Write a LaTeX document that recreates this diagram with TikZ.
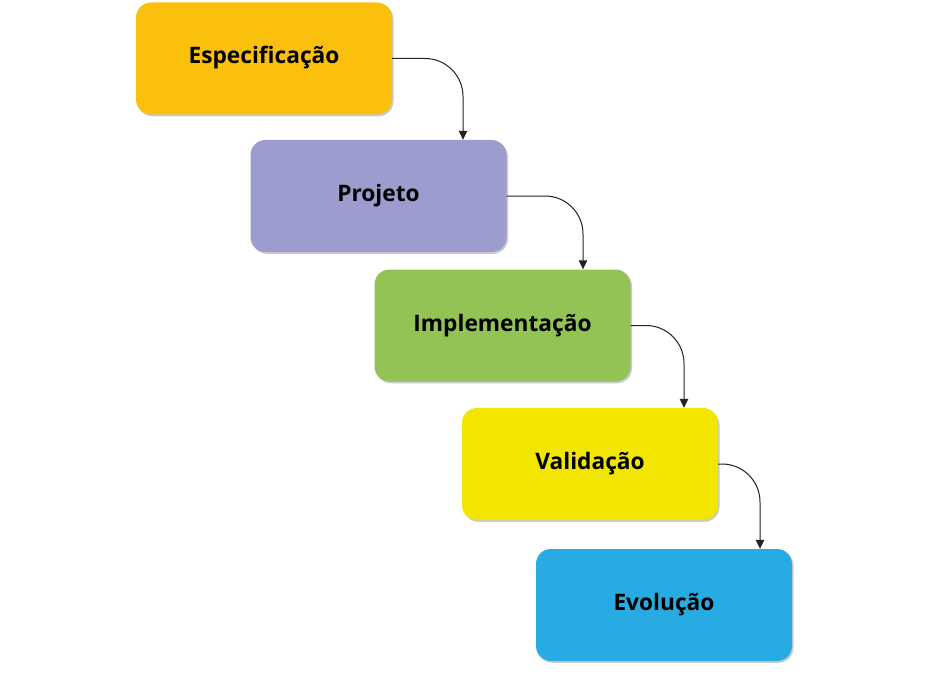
\documentclass[tikz,border=0pt]{standalone}
\usepackage{fontspec}
\setmainfont{Open Sans}
\usetikzlibrary{shadows,arrows.meta,positioning}
\definecolor{cEsp}{HTML}{FBC00D}
\definecolor{cPro}{HTML}{9C9CCE}
\definecolor{cImp}{HTML}{93C255}
\definecolor{cVal}{HTML}{F2E600}
\definecolor{cEvo}{HTML}{28ABE2}
\definecolor{cLine}{HTML}{222222}
\tikzset{
  phase/.style={rectangle, rounded corners=15bp, minimum width=256bp, minimum height=112bp,
    inner sep=0pt, text height=14bp, text depth=3bp,
    font=\fontsize{22.7bp}{25bp}\selectfont\bfseries, text=black,
    drop shadow={shadow xshift=1.5bp, shadow yshift=-1.8bp, opacity=0.35, fill=black!60}},
  flow/.style={draw=cLine, line width=1bp, rounded corners=38bp,
    -{Triangle[length=9bp,width=8.5bp]}}
}
\begin{document}
\begin{tikzpicture}[x=1bp,y=-1bp]
\useasboundingbox (0,0) rectangle (939,684);
\node[phase, fill=cEsp] (esp) at (264,58.5) {Especificação};
\node[phase, fill=cPro] (pro) at (378.5,196) {Projeto};
\node[phase, fill=cImp] (imp) at (502.5,325.5) {Implementação};
\node[phase, fill=cVal] (val) at (590,464) {Validação};
\node[phase, fill=cEvo] (evo) at (664,605) {Evolução};
\draw[flow] (esp.east) -| ([xshift=84.5bp]pro.north);
\draw[flow] (pro.east) -| ([xshift=80.5bp]imp.north);
\draw[flow] (imp.east) -| ([xshift=94bp]val.north);
\draw[flow] (val.east) -| ([xshift=96bp]evo.north);
\end{tikzpicture}
\end{document}
